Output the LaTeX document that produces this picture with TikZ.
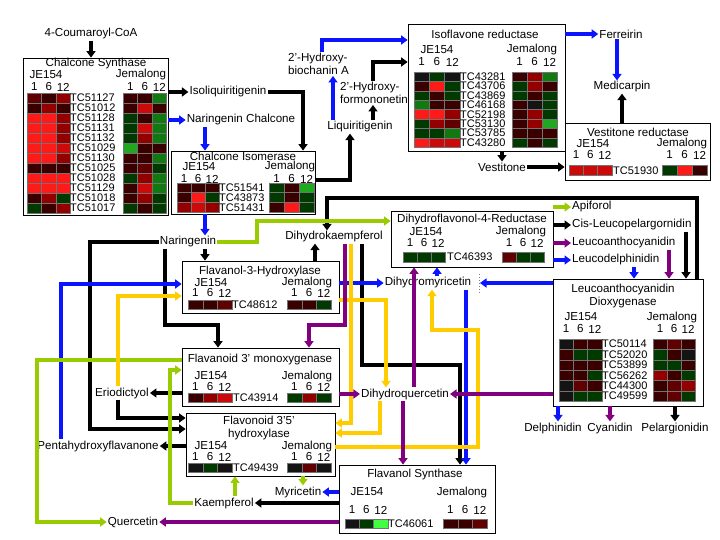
\documentclass[tikz,border=0pt]{standalone}
\usepackage{fontspec}
\setmainfont{Liberation Sans}
\usetikzlibrary{arrows.meta,fit}

\definecolor{blu}{HTML}{0A14FF}
\definecolor{grn}{HTML}{99CC00}
\definecolor{ylw}{HTML}{FFCC00}
\definecolor{pur}{HTML}{800080}
\definecolor{hk}{HTML}{141414}
\definecolor{hr1}{HTML}{3A0000}
\definecolor{hr2}{HTML}{600000}
\definecolor{hr3}{HTML}{940000}
\definecolor{hr4}{HTML}{CC0A0A}
\definecolor{hr5}{HTML}{FF1A1A}
\definecolor{hg1}{HTML}{003A00}
\definecolor{hg2}{HTML}{107A10}
\definecolor{hg3}{HTML}{20A820}
\definecolor{hg4}{HTML}{40FF40}

% heat cells: x, y, cell width, cell height, rows
\newcommand{\heatmap}[5]{%
  \foreach \hrow [count=\j from 0] in {#5} {
    \foreach \hc [count=\i from 0] in \hrow {
      \draw[cell, fill=\hc] ({#1+\i*#3},{#2+\j*#4}) rectangle +(#3,#4);
    }
  }%
}
% probe names: name, x, y, row height, labels
\newcommand{\tcs}[5]{%
  \foreach \tn [count=\j from 0] in {#5}
    \node[tc] (#1-\j) at (#2,{#3+(\j+0.5)*#4}) {\tn};%
}
% hour columns: name, x, y, cell width
\newcommand{\nums}[4]{%
  \foreach \nn [count=\i from 0] in {1,6,12}
    \node[lab] (#1-\nn) at ({#2+(\i+0.5)*#4},#3) {\nn};%
}

\begin{document}
\begin{tikzpicture}[x=1pt, y=-1pt, >={Triangle[length=6.5pt,width=9pt]},
    font=\fontsize{11.6}{13}\selectfont,
    enz/.style={draw, line width=0.8pt, fill=white, inner sep=0pt},
    lab/.style={inner sep=1pt},
    tc/.style={anchor=west, inner sep=0pt, font=\fontsize{11}{12}\selectfont},
    cell/.style={draw=black!55, line width=0.4pt},
    con/.style={->, line width=3.2pt}]
\useasboundingbox (0,0) rectangle (720,540);

% enzyme boxes
\node[enz, fit={(23,58) (168,215)}] (chs) {};
\node[enz, fit={(171,151) (315,214)}] (chi) {};
\node[enz, fit={(408,24) (565,151)}] (ifr) {};
\node[enz, fit={(565,123) (710,180)}] (vr) {};
\node[enz, fit={(391,211) (553,267)}] (dfr) {};
\node[enz, fit={(182,261) (339,313)}] (f3h) {};
\node[enz, fit={(182,348) (339,406)}] (f3m) {};
\node[enz, fit={(186,413) (335,476)}] (f35) {};
\node[enz, fit={(339,465) (495,533)}] (fls) {};
\node[enz, fit={(553,279) (703,406)}] (ldox) {};

% chalcone synthase
\node[lab] (chs-t) at (96,64) {Chalcone Synthase};
\node[lab] (chs-je) at (46,75) {JE154};
\node[lab] (chs-jm) at (141,75) {Jemalong};
\nums{chs-a}{27}{87}{14.5}
\nums{chs-b}{123}{87}{14.5}
\heatmap{27}{93}{14.5}{10}{{hr2,hr1,hr3},{hr1,hr3,hr1},{hr5,hr5,hr3},{hr5,hr5,hr3},{hr5,hr5,hr3},{hr5,hr5,hr4},{hr5,hr5,hr3},{hr1,hr1,hr1},{hr5,hr5,hr5},{hr5,hr5,hr5},{hr1,hr3,hg1},{hg1,hr1,hr3}}
\heatmap{123}{93}{14.5}{10}{{hr1,hr1,hg2},{hr1,hr4,hr1},{hg1,hr1,hg2},{hg1,hr4,hg2},{hg1,hr3,hg2},{hg3,hr1,hr1},{hr1,hr1,hg2},{hr1,hr2,hg1},{hg1,hr3,hg2},{hr1,hr4,hg2},{hr1,hr3,hg1},{hg1,hr1,hg1}}
\tcs{chs-tc}{70}{93}{10}{TC51127,TC51012,TC51128,TC51131,TC51132,TC51029,TC51130,TC51025,TC51028,TC51129,TC51018,TC51017}

% chalcone isomerase
\node[lab] (chi-t) at (243,156) {Chalcone Isomerase};
\node[lab] (chi-je) at (199,167) {JE154};
\node[lab] (chi-jm) at (290,167) {Jemalong};
\nums{chi-a}{177}{179}{14}
\nums{chi-b}{269}{179}{15}
\heatmap{177}{183}{14}{9.7}{{hr1,hr1,hr1},{hr1,hr5,hg1},{hr3,hr4,hr3}}
\heatmap{269}{183}{15}{9.7}{{hg1,hr1,hg3},{hg1,hr1,hg1},{hr1,hr5,hg1}}
\tcs{chi-tc}{219}{183}{9.7}{TC51541,TC43873,TC51431}

% isoflavone reductase
\node[lab] (ifr-t) at (485,34) {Isoflavone reductase};
\node[lab] (ifr-je) at (437,50) {JE154};
\node[lab] (ifr-jm) at (532,50) {Jemalong};
\nums{ifr-a}{414}{62}{15.3}
\nums{ifr-b}{512}{62}{15}
\heatmap{414}{72}{15.3}{9.4}{{hk,hg1,hk},{hr1,hr5,hg1},{hg1,hr1,hg1},{hg2,hr1,hr1},{hr5,hr5,hr3},{hg1,hr3,hr2},{hg1,hg1,hg2},{hr5,hr4,hr4}}
\heatmap{512}{72}{15}{9.4}{{hr1,hr3,hg2},{hg1,hr3,hr1},{hg1,hr1,hg1},{hr1,hk,hg1},{hr1,hr3,hg1},{hr1,hr3,hg3},{hr1,hr1,hr1},{hg1,hr1,hg1}}
\tcs{ifr-tc}{460}{72}{9.4}{TC43281,TC43706,TC43869,TC46168,TC52198,TC53130,TC53785,TC43280}

% vestitone reductase
\node[lab] (vr-t) at (638,132) {Vestitone reductase};
\node[lab] (vr-je) at (593,144) {JE154};
\node[lab] (vr-jm) at (682,144) {Jemalong};
\nums{vr-a}{569}{155}{14.3}
\nums{vr-b}{662}{155}{15}
\heatmap{569}{165}{14.3}{10.5}{{hr4,hr4,hr4}}
\heatmap{662}{165}{15}{10.5}{{hg1,hr5,hr1}}
\tcs{vr-tc}{613}{165}{10.5}{TC51930}

% dihydroflavonol-4-reductase
\node[lab] (dfr-t) at (472,220) {Dihydroflavonol-4-Reductase};
\node[lab] (dfr-je) at (426,232) {JE154};
\node[lab] (dfr-jm) at (521,232) {Jemalong};
\nums{dfr-a}{403}{243}{14}
\nums{dfr-b}{502}{243}{14}
\heatmap{403}{252}{14}{10}{{hg1,hg1,hg1}}
\heatmap{502}{252}{14}{10}{{hr2,hg1,hg1}}
\tcs{dfr-tc}{447}{252}{10}{TC46393}

% flavanol-3-hydroxylase
\node[lab] (f3h-t) at (260,272) {Flavanol-3-Hydroxylase};
\node[lab] (f3h-je) at (211,283) {JE154};
\node[lab] (f3h-jm) at (307,283) {Jemalong};
\nums{f3h-a}{188}{293}{14.7}
\nums{f3h-b}{287}{293}{14.7}
\heatmap{188}{300}{14.7}{9.5}{{hr1,hr1,hr2}}
\heatmap{287}{300}{14.7}{9.5}{{hr1,hr1,hg1}}
\tcs{f3h-tc}{232}{300}{9.5}{TC48612}

% flavanoid 3' monoxygenase
\node[lab] (f3m-t) at (260,359) {Flavanoid 3' monoxygenase};
\node[lab] (f3m-je) at (211,376) {JE154};
\node[lab] (f3m-jm) at (307,376) {Jemalong};
\nums{f3m-a}{188}{387}{14.7}
\nums{f3m-b}{287}{387}{14.7}
\heatmap{188}{393}{14.7}{9.5}{{hr1,hr3,hr4}}
\heatmap{287}{393}{14.7}{9.5}{{hg1,hr3,hg1}}
\tcs{f3m-tc}{233}{393}{9.5}{TC43914}

% flavonoid 3'5' hydroxylase
\node[lab, align=center] (f35-t) at (259,428) {Flavonoid 3'5'\\hydroxylase};
\node[lab] (f35-je) at (211,446) {JE154};
\node[lab] (f35-jm) at (307,446) {Jemalong};
\nums{f35-a}{188}{457}{14.7}
\nums{f35-b}{287}{457}{14.7}
\heatmap{188}{463}{14.7}{9.5}{{hk,hg1,hk}}
\heatmap{287}{463}{14.7}{9.5}{{hk,hr2,hk}}
\tcs{f35-tc}{233}{463}{9.5}{TC49439}

% flavanol synthase
\node[lab] (fls-t) at (415,474) {Flavanol Synthase};
\node[lab] (fls-je) at (367,492) {JE154};
\node[lab] (fls-jm) at (462,492) {Jemalong};
\nums{fls-a}{345}{510}{14.3}
\nums{fls-b}{443}{510}{14.7}
\heatmap{345}{519}{14.3}{9}{{hk,hg1,hg4}}
\heatmap{443}{519}{14.7}{9}{{hr1,hr1,hr2}}
\tcs{fls-tc}{388}{519}{9}{TC46061}

% leucoanthocyanidin dioxygenase
\node[lab, align=center] (ldox-t) at (623,296) {Leucoanthocyanidin\\Dioxygenase};
\node[lab] (ldox-je) at (581,317) {JE154};
\node[lab] (ldox-jm) at (672,317) {Jemalong};
\nums{ldox-a}{559}{329}{14.3}
\nums{ldox-b}{653}{329}{14}
\heatmap{559}{339}{14.3}{10.4}{{hk,hr1,hr1},{hr1,hg1,hg1},{hr1,hr1,hr1},{hr1,hr1,hg1},{hk,hr2,hr1},{hk,hg1,hg1}}
\heatmap{653}{339}{14}{10.4}{{hr1,hr2,hr1},{hg1,hr1,hk},{hg1,hg1,hr1},{hr3,hr1,hg1},{hr1,hr2,hr3},{hr1,hr2,hg1}}
\tcs{ldox-tc}{602}{339}{10.4}{TC50114,TC52020,TC53899,TC56262,TC44300,TC49599}

% metabolites
\node[lab] (coa) at (91,34) {4-Coumaroyl-CoA};
\node[lab] (isl) at (228,92) {Isoliquiritigenin};
\node[lab] (nch) at (241,120) {Naringenin Chalcone};
\node[lab] (liq) at (360,127) {Liquiritigenin};
\node[lab, align=left, anchor=west] (hbi) at (287,64) {2'-Hydroxy-\\biochanin A};
\node[lab, align=left, anchor=west] (hfo) at (339,93) {2'-Hydroxy-\\formononetin};
\node[lab] (fer) at (621,34) {Ferreirin};
\node[lab] (med) at (622,87) {Medicarpin};
\node[lab] (ves) at (502,167) {Vestitone};
\node[lab] (nar) at (188,242) {Naringenin};
\node[lab] (dhk) at (334,237) {Dihydrokaempferol};
\node[lab] (dhm) at (428,283) {Dihydromyricetin};
\node[lab] (dhq) at (405,394) {Dihydroquercetin};
\node[lab] (eri) at (122,393) {Eriodictyol};
\node[lab] (pen) at (98,446) {Pentahydroxyflavanone};
\node[lab] (myr) at (298,492) {Myricetin};
\node[lab] (kae) at (224,503) {Kaempferol};
\node[lab] (que) at (133,522) {Quercetin};
\node[lab, anchor=west] (api) at (571,207) {Apiforol};
\node[lab, anchor=west] (clp) at (571,225) {Cis-Leucopelargornidin};
\node[lab, anchor=west] (lan) at (571,243) {Leucoanthocyanidin};
\node[lab, anchor=west] (ldp) at (571,260) {Leucodelphinidin};
\node[lab] (del) at (553,428) {Delphinidin};
\node[lab] (cya) at (610,428) {Cyanidin};
\node[lab] (pel) at (675,428) {Pelargionidin};
\coordinate (dhmcut) at (480,283);
\draw[dotted, black!50, line width=1pt] (479,274) -- (479,293);

% black routes
\draw[con] (coa.south) -- (coa |- chs.north);
\draw[con] (chs.east |- isl) -- (isl.west);
\draw[con] (isl.east) -| (chi.north -| 303,0);
\draw[con] (chi.east |- 0,180) -| (liq.south -| 350,0);
\draw[con] (liq.north -| 373,0) -- (hfo.south -| 373,0);
\draw[con] (hfo.north -| 373,0) |- (ifr.west |- 0,62);
\draw[con] (ifr.south -| ves) -- (ves.north);
\draw[con] (ves.east) -- (vr.west |- ves);
\draw[con] (vr.north -| med) -- (med.south);
\draw[con] (ldox.north -| 697,0) |- (327,198) -- (dhk.north -| 327,0);
\draw[con] (f3h.north -| 315,0) -- (dhk.south -| 315,0);
\draw[con] (nar.south -| 205,0) -- (f3h.north -| 205,0);
\draw[con] (nar.west) -| (90,429) -- (f35.west |- 0,429);
\draw[con] (nar.south -| 165,0) |- (218,325) -- (f3m.north -| 218,0);
\draw[con] (f3m.west |- eri) -- (eri.east);
\draw[con] (eri.south -| 118,0) |- (f35.west |- 0,418);
\draw[con] (f35.west |- pen) -- (pen.east);
\draw[con] (dhk.south -| 362,0) |- (460,365) -- (fls.north -| 460,0);
\draw[con] (fls.west |- kae) -- (kae.east);
\draw[con] (dfr.east |- clp) -- (clp.west);
\draw[con] (clp.south -| 686,0) -- (ldox.north -| 686,0);
\draw[con] (ldox.south -| pel) -- (pel.north);

% blue routes
\draw[con, blu] (chs.east |- nch) -- (nch.west);
\draw[con, blu] (nch.south -| 205,0) -- (chi.north -| 205,0);
\draw[con, blu] (chi.south -| 205,0) -- (nar.north -| 205,0);
\draw[con, blu] (liq.north -| 333,0) -- (hbi.south -| 333,0);
\draw[con, blu] (hbi.north -| 322,0) |- (ifr.west |- 0,40);
\draw[con, blu] (ifr.east |- fer) -- (fer.west);
\draw[con, blu] (fer.south -| 617,0) -- (med.north -| 617,0);
\draw[con, blu] (pen.north -| 61,0) |- (f3h.west |- 0,284);
\draw[con, blu] (f3h.east |- dhm) -- (dhm.west);
\draw[con, blu] (dhm.north -| 437,0) -- (dfr.south -| 437,0);
\draw[con, blu] (dhm.south -| 466,0) -- (fls.north -| 466,0);
\draw[con, blu] (ldox.west |- dhmcut) -- (dhmcut);
\draw[con, blu] (dfr.east |- ldp) -- (ldp.west);
\draw[con, blu] (ldp.south -| 634,0) -- (ldox.north -| 634,0);
\draw[con, blu] (ldox.south -| 558,0) -- (del.north -| 558,0);
\draw[con, blu] (fls.west |- myr) -- (myr.east);

% green routes
\draw[con, grn] (nar.east) -| (257,221) -- (dfr.west |- 0,221);
\draw[con, grn] (dfr.east |- api) -- (api.west);
\draw[con, grn] (kae.west) -| (170,370) -- (f3m.west |- 0,370);
\draw[con, grn] (kae.north -| 235,0) -- (f35.south -| 235,0);
\draw[con, grn] (f35.south -| 303,0) -- (myr.north -| 303,0);
\draw[con, grn] (f3m.west |- 0,360) -| (37,522) -- (que.west);

% yellow routes
\draw[con, ylw] (eri.north -| 118,0) |- (f3h.west |- 0,296);
\draw[con, ylw] (f3h.east |- 0,300) -| (dhq.north -| 386,0);
\draw[con, ylw] (dhk.south -| 351,0) |- (f35.east |- 0,423);
\draw[con, ylw] (dhq.south -| 380,0) |- (f35.east |- 0,433);
\draw[con, ylw] (f35.east |- 0,447) -| (478,330) -| (dhm.south -| 432,0);

% purple routes
\draw[con, pur] (dhk.south -| 345,0) |- (309,325) -- (f3m.north -| 309,0);
\draw[con, pur] (f3m.east |- dhq) -- (dhq.west);
\draw[con, pur] (ldox.west |- dhq) -- (dhq.east);
\draw[con, pur] (dhq.south -| 403,0) -- (fls.north -| 403,0);
\draw[con, pur] (dhq.north -| 414,0) -- (dfr.south -| 414,0);
\draw[con, pur] (fls.west |- que) -- (que.east);
\draw[con, pur] (dfr.east |- lan) -- (lan.west);
\draw[con, pur] (lan.south -| 669,0) -- (ldox.north -| 669,0);
\draw[con, pur] (ldox.south -| cya) -- (cya.north);
\end{tikzpicture}
\end{document}
